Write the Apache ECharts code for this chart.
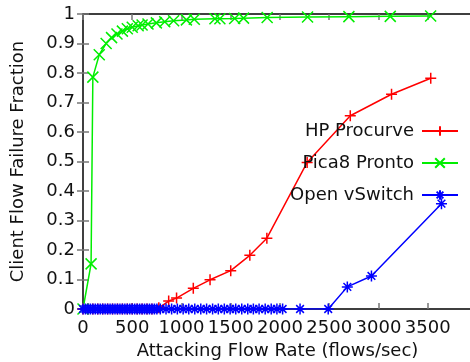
<!DOCTYPE html>
<html>
<head>
<meta charset="utf-8">
<script src="https://cdn.jsdelivr.net/npm/echarts@6/dist/echarts.min.js"></script>
<style>
  html, body { margin: 0; padding: 0; background: #fff; }
  #chart { width: 470px; height: 362px; }
</style>
</head>
<body>
<div id="chart"></div>
<script>
// HP Procurve
var hpRate = [0, 50, 100, 150, 200, 250, 300, 350, 400, 450, 500, 550, 600, 650, 700, 770,
              870, 950, 1120, 1290, 1500, 1694, 1867, 2276, 2714, 3133, 3531];
var hpFail = [0, 0, 0, 0, 0, 0, 0, 0, 0, 0, 0, 0, 0, 0, 0, 0.004,
              0.027, 0.037, 0.07, 0.099, 0.13, 0.182, 0.24, 0.497, 0.655, 0.728, 0.782];
// Pica8 Pronto
var picaRate = [0, 82, 100, 165, 235, 290, 345, 400, 450, 500, 560, 600, 660, 745, 830, 920,
                1050, 1130, 1340, 1390, 1540, 1630, 1870, 2280, 2700, 3120, 3530];
var picaFail = [0, 0.153, 0.786, 0.862, 0.9, 0.92, 0.932, 0.942, 0.95, 0.955, 0.96, 0.963, 0.966, 0.97, 0.974, 0.977,
                0.98, 0.982, 0.984, 0.984, 0.985, 0.986, 0.988, 0.99, 0.991, 0.992, 0.993];
// Open vSwitch
var ovsRate = [0, 25, 50, 75, 100, 125, 150, 175, 200, 225, 250, 275, 300, 325, 350, 375,
               400, 425, 450, 475, 500, 525, 550, 575, 600, 625, 650, 675, 700, 725, 750,
               785, 843, 900, 958, 1017, 1074, 1135, 1196, 1255, 1316, 1374, 1435, 1494, 1551,
               1612, 1673, 1730, 1788, 1850, 1911, 1969, 2027, 2204, 2490, 2684, 2929, 3640];
var ovsFail = [0, 0, 0, 0, 0, 0, 0, 0, 0, 0, 0, 0, 0, 0, 0, 0,
               0, 0, 0, 0, 0, 0, 0, 0, 0, 0, 0, 0, 0, 0, 0,
               0, 0, 0, 0, 0, 0, 0, 0, 0, 0, 0, 0, 0, 0,
               0, 0, 0, 0, 0, 0, 0, 0, 0, 0, 0.075, 0.112, 0.357];

var seriesNames = ['HP Procurve', 'Pica8 Pronto', 'Open vSwitch'];

function pairs(xs, ys) {
	var out = [];
	for (var i = 0; i < xs.length; i++) out.push([xs[i], ys[i]]);
	return out;
}

var plusPath = 'path://M0,5L10,5M5,0L5,10';
var crossPath = 'path://M0,0L10,10M10,0L0,10';
var starPath = 'path://M0,5L10,5M5,0L5,10M1.5,1.5L8.5,8.5M8.5,1.5L1.5,8.5';

function lineSeries(name, data, color, symbol) {
	return {
		name: name,
		type: 'line',
		data: data,
		symbol: symbol,
		symbolSize: 11,
		showAllSymbol: true,
		animation: false,
		lineStyle: { color: color, width: 1.5 },
		itemStyle: { color: color, borderColor: color, borderWidth: 1.5 }
	};
}

var font = 'DejaVu Sans';
var axisCommon = {
	type: 'value',
	splitLine: { show: false },
	axisLine: { show: true, onZero: false, lineStyle: { color: '#000', width: 1.5 } },
	axisTick: { show: true, inside: true, length: 6, lineStyle: { color: '#777', width: 1.5 } }
};

var myChart = echarts.init(document.getElementById('chart'));
var option = {
	animation: false,
	grid: { left: 83, top: 14, width: 389, height: 295, outerBoundsMode: 'none', containLabel: false },
	legend: {
		orient: 'vertical',
		align: 'right',
		right: 6,
		top: 116,
		itemWidth: 36,
		itemHeight: 12,
		itemGap: 12,
		data: seriesNames,
		textStyle: { fontFamily: font, fontSize: 18, color: '#111', lineHeight: 20, padding: [0, 3, 0, 0] }
	},
	xAxis: [
		Object.assign({}, axisCommon, {
			position: 'bottom', min: 0, max: 3950, interval: 500,
			name: 'Attacking Flow Rate (flows/sec)', nameLocation: 'middle', nameGap: 32,
			nameTextStyle: { fontFamily: font, fontSize: 18, color: '#111' },
			axisLabel: { fontFamily: font, fontSize: 18, color: '#111', margin: 10, showMaxLabel: false,
				formatter: function(v) { return String(v); } }
		}),
		Object.assign({}, axisCommon, {
			position: 'top', min: 0, max: 3950, interval: 500,
			axisLabel: { show: false }
		})
	],
	yAxis: [
		Object.assign({}, axisCommon, {
			position: 'left', min: 0, max: 1, interval: 0.1,
			name: 'Client Flow Failure Fraction', nameLocation: 'middle', nameGap: 56,
			nameTextStyle: { fontFamily: font, fontSize: 18, color: '#111' },
			axisLabel: { fontFamily: font, fontSize: 18, color: '#111', margin: 8 }
		}),
		Object.assign({}, axisCommon, {
			position: 'right', min: 0, max: 1, interval: 0.1,
			axisLine: { show: false },
			axisLabel: { show: false }
		})
	],
	series: [
		lineSeries(seriesNames[0], pairs(hpRate, hpFail), '#ff0000', plusPath),
		lineSeries(seriesNames[1], pairs(picaRate, picaFail), '#00ee00', crossPath),
		lineSeries(seriesNames[2], pairs(ovsRate, ovsFail), '#0000ff', starPath)
	]
};
myChart.setOption(option);
</script>
</body>
</html>
